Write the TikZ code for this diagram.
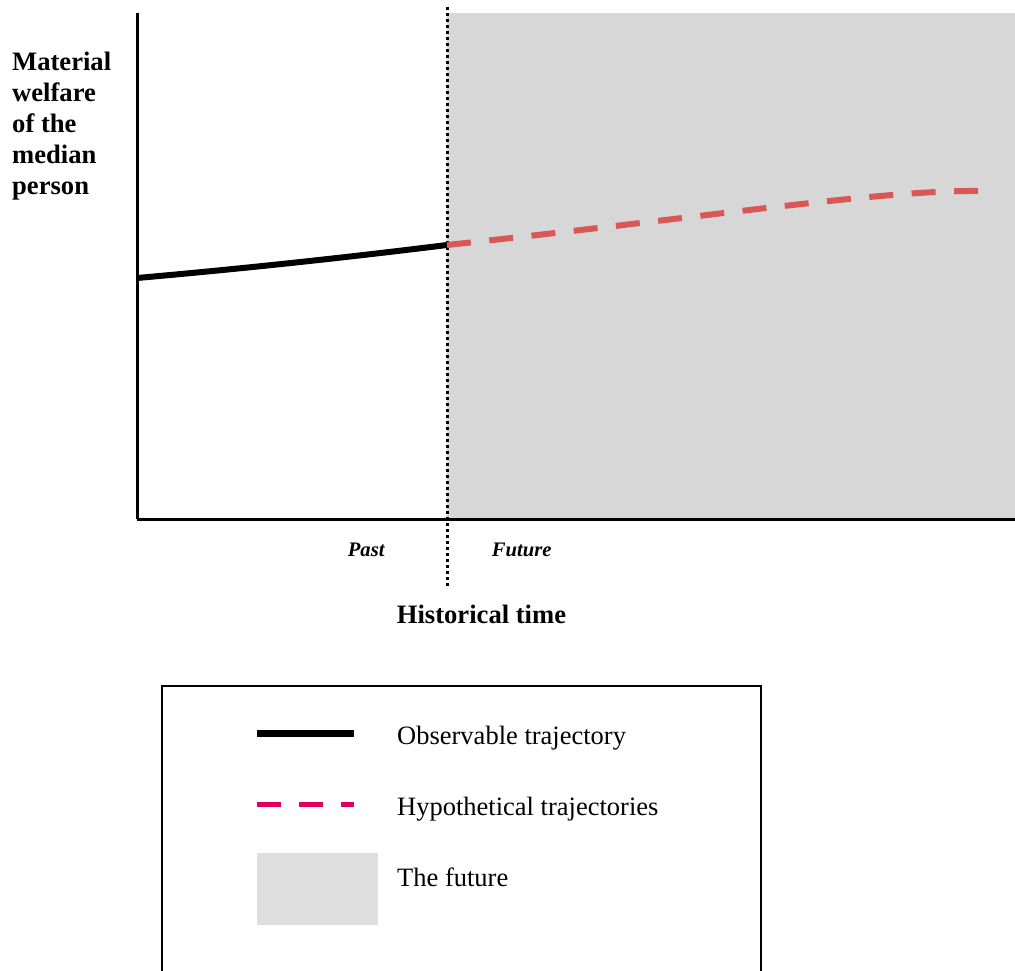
\documentclass[tikz,border=0pt]{standalone}
\usepackage{fontspec}
\setmainfont{Liberation Serif}
\definecolor{futuregray}{HTML}{D7D7D7}
\definecolor{legendgray}{HTML}{DEDEDE}
\definecolor{hypred}{HTML}{DA5757}
\definecolor{hypmag}{HTML}{E0005F}
\tikzset{
  lbl/.style={inner sep=0pt, anchor=base west},
  axisline/.style={line width=3pt},
  obsline/.style={line width=6pt, black},
  hypline/.style={line width=6pt, dash pattern=on 24pt off 18.5pt},
  legdash/.style={line width=5.5pt, dash pattern=on 24pt off 18pt},
  dotline/.style={line width=3.3pt, dash pattern=on 3.3pt off 2.7pt},
  bigbold/.style={font=\fontsize{26.6}{31}\selectfont\bfseries},
  bigreg/.style={font=\fontsize{26.5}{31}\selectfont},
  smallbi/.style={font=\fontsize{20.6}{24}\selectfont\bfseries\itshape},
}
\begin{document}
\begin{tikzpicture}[x=1pt,y=-1pt]
\useasboundingbox (0,0) rectangle (1015,970);
% future region
\fill[futuregray] (447,13) rectangle (1015,519);
% axes
\coordinate (ytop) at (137,13);
\coordinate (origin) at (137,519);
\coordinate (xend) at (1015,519);
\draw[axisline] (ytop) -- (origin);
\draw[axisline] (origin) -- (xend);
% now divider
\coordinate (nowtop) at (447.5,7);
\coordinate (nowbot) at (447.5,588);
\draw[dotline] (nowtop) -- (nowbot);
% trajectories
\coordinate (obsstart) at (137,278);
\coordinate (now) at (447,245);
\coordinate (hypend) at (978,191);
\draw[obsline] (obsstart) .. controls (250,268) and (350,257) .. (now);
\draw[hypline, hypred] (now) .. controls (700,218) and (880,190) .. (hypend);
% labels
\node[lbl, bigbold] (yl1) at (12,70.7) {Material};
\node[lbl, bigbold] (yl2) at (12,101.7) {welfare};
\node[lbl, bigbold] (yl3) at (12,132.7) {of the};
\node[lbl, bigbold] (yl4) at (12,163.7) {median};
\node[lbl, bigbold] (yl5) at (12,194.7) {person};
\node[lbl, smallbi] (past) at (347.7,556.7) {Past};
\node[lbl, smallbi] (future) at (491.7,556.7) {Future};
\node[lbl, bigbold] (xlabel) at (396.7,623.3) {Historical time};
% legend
\draw[line width=2pt] (162,972) -- (162,685.5) -- (760.5,685.5) -- (760.5,972);
\coordinate (l1a) at (257,733);
\coordinate (l1b) at (354,733);
\draw[line width=7pt, black] (l1a) -- (l1b);
\coordinate (l2a) at (257,804.5);
\coordinate (l2b) at (354,804.5);
\draw[legdash, hypmag] (l2a) -- (l2b);
\fill[legendgray] (257,853) rectangle (378,925);
\node[lbl, bigreg] (leg1) at (397,744) {Observable trajectory};
\node[lbl, bigreg] (leg2) at (397,815.7) {Hypothetical trajectories};
\node[lbl, bigreg] (leg3) at (397,886.7) {The future};
\end{tikzpicture}
\end{document}
